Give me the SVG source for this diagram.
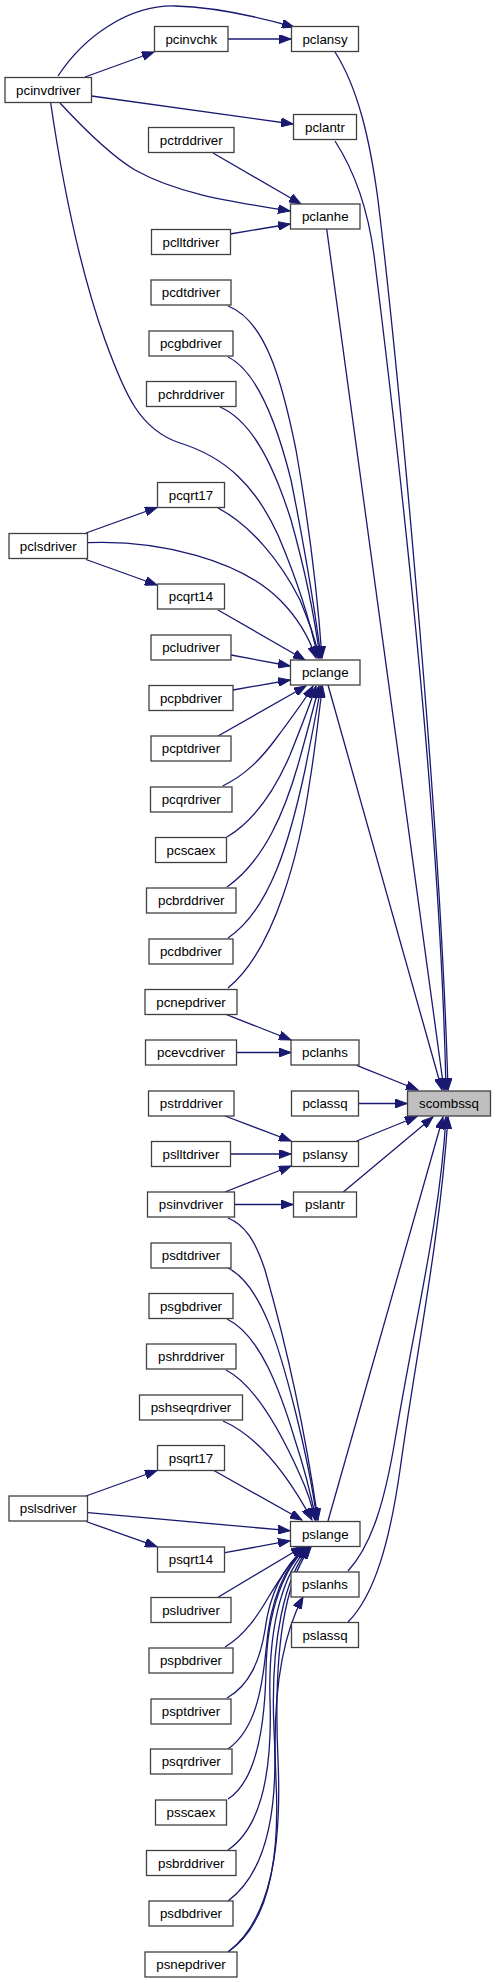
<svg xmlns="http://www.w3.org/2000/svg" width="496" height="1983" viewBox="0 0 496 1983">
<style>
.n rect{fill:#ffffff;stroke:#404040;stroke-width:1.3}
.n text{font-family:"Liberation Sans",Arial,Helvetica,sans-serif;font-size:13.3px;text-anchor:middle;fill:#000000}
#scombssq rect{fill:#bfbfbf}
.e path{fill:none;stroke:#191970;stroke-width:1.3;marker-end:url(#ah)}
</style>
<defs>
<marker id="ah" markerUnits="userSpaceOnUse" markerWidth="13" markerHeight="9" refX="12" refY="4.5" orient="auto">
<path d="M0,0L12,4.5L0,9z" fill="#191970" stroke="#191970" stroke-width="1"/>
</marker>
</defs>
<rect width="496" height="1983" fill="#ffffff"/>
<g id="edges" class="e">
<path d="M58,76 C85,35 130,5 175,6 C215,7 255,16 294,27"/>
<path d="M85,77 L154,52"/>
<path d="M228,39 L291,39"/>
<path d="M91.5,96 L293,124"/>
<path d="M60,103 C85,130 110,155 135,170 C180,195 235,202 290,211"/>
<path d="M50.7,103 C62,180 80,270 105,340 C125,395 140,430 180,443 C225,457 255,485 278,535 C295,575 310,620 318,658"/>
<path d="M213,153 L301,204"/>
<path d="M230,234 L290,224"/>
<path d="M228,306 C265,320 282,380 296,450 C310,530 318,600 322,658"/>
<path d="M228,357 C255,370 276,420 291,480 C305,550 315,610 321,658"/>
<path d="M220,407 C250,420 272,460 291,520 C305,570 315,620 320,658"/>
<path d="M86,533 L157,507.5"/>
<path d="M86,559.5 L157,585"/>
<path d="M218,508 C250,525 280,560 300,600 C310,625 316,640 319,658"/>
<path d="M88,542.7 C160,540 240,560 280,600 C300,620 310,640 316,658"/>
<path d="M218,610 L305,660"/>
<path d="M231,655 L290,666"/>
<path d="M233,690 L290,680"/>
<path d="M218,736 L306,686"/>
<path d="M222.7,786 C245,775 260,760 275,740 C290,720 305,700 313,686"/>
<path d="M227,837 C255,820 275,790 290,755 C300,730 310,705 316,686"/>
<path d="M227,887 C265,860 285,810 298,765 C305,740 313,710 319,686"/>
<path d="M228,938 C270,910 290,840 305,770 C310,745 316,715 321,686"/>
<path d="M228,988 C275,950 300,850 310,780 C315,750 318,720 322.5,686"/>
<path d="M225,1014 L291,1040"/>
<path d="M236.7,1052.5 L291,1052.5"/>
<path d="M225,1116 L291,1141"/>
<path d="M230.3,1154 L291,1154"/>
<path d="M225,1192 L291,1166"/>
<path d="M234.7,1204.5 L293,1204.5"/>
<path d="M335,52 C358,88 370,140 378,200 C395,340 440,800 448,1090"/>
<path d="M335,141 C355,172 368,210 374,255 C392,400 440,800 446,1090"/>
<path d="M326.7,229 L444,1090"/>
<path d="M328,685 L442,1090"/>
<path d="M356.7,1065.3 L418,1090"/>
<path d="M358.3,1103.5 L407,1103.5"/>
<path d="M356.7,1141 L417,1116.5"/>
<path d="M343.3,1192 L433,1117"/>
<path d="M328,1521 L443,1117"/>
<path d="M348,1571 C372,1545 385,1500 395,1440 C415,1320 440,1220 446,1117"/>
<path d="M348,1622 C375,1595 390,1540 400,1470 C415,1360 440,1240 448,1117"/>
<path d="M228,1218 C245,1225 255,1240 265,1270 C285,1340 305,1430 318,1520"/>
<path d="M228,1268 C262,1285 280,1350 295,1410 C305,1450 313,1490 317,1520"/>
<path d="M227,1319 C260,1335 280,1390 295,1440 C305,1470 312,1500 316,1520"/>
<path d="M226,1370 C255,1385 280,1430 300,1475 C307,1490 312,1505 315,1520"/>
<path d="M223,1421 C255,1435 285,1470 312,1520"/>
<path d="M213,1470 L302,1520"/>
<path d="M86,1496 L157,1470.5"/>
<path d="M88,1512.7 L290,1530.7"/>
<path d="M86,1521.5 L157,1546.7"/>
<path d="M225,1552.7 L290,1540.7"/>
<path d="M218,1597.3 L303,1546.5"/>
<path d="M225,1647 C245,1635 258,1615 268,1598 C280,1578 292,1560 305,1547"/>
<path d="M227,1698 C250,1685 260,1660 265,1630 C270,1590 285,1565 306,1547"/>
<path d="M228,1749 C255,1730 262,1690 266,1650 C270,1600 285,1565 307,1547"/>
<path d="M228,1799 C258,1780 265,1720 266,1670 C267,1610 285,1565 308,1547"/>
<path d="M228,1850 C265,1825 272,1760 270,1700 C268,1620 285,1570 309,1547"/>
<path d="M228,1901 C270,1870 278,1800 274,1730 C270,1640 285,1575 310,1547"/>
<path d="M228,1952 C270,1920 282,1850 278,1760 C273,1650 285,1580 311,1547"/>
<path d="M228,1952 C268,1925 280,1860 276,1780 C272,1700 280,1640 303,1597"/>
</g>
<g id="pcinvchk" class="n"><rect x="154.5" y="26.5" width="73.5" height="25"/><text x="191.25" y="43.5">pcinvchk</text></g>
<g id="pclansy" class="n"><rect x="291.5" y="26.5" width="67" height="25"/><text x="325" y="43.5">pclansy</text></g>
<g id="pcinvdriver" class="n"><rect x="5" y="77.5" width="86.5" height="25"/><text x="48.25" y="94.5">pcinvdriver</text></g>
<g id="pclantr" class="n"><rect x="293.5" y="114.5" width="63" height="25"/><text x="325" y="131.5">pclantr</text></g>
<g id="pctrddriver" class="n"><rect x="148.5" y="127.5" width="85.5" height="25"/><text x="191.25" y="144.5">pctrddriver</text></g>
<g id="pclanhe" class="n"><rect x="290.5" y="204" width="69.5" height="25"/><text x="325.25" y="221">pclanhe</text></g>
<g id="pclltdriver" class="n"><rect x="151.5" y="229.5" width="79" height="25"/><text x="191" y="246.5">pclltdriver</text></g>
<g id="pcdtdriver" class="n"><rect x="151" y="280" width="80" height="25"/><text x="191" y="297">pcdtdriver</text></g>
<g id="pcgbdriver" class="n"><rect x="149" y="331" width="84" height="25"/><text x="191" y="348">pcgbdriver</text></g>
<g id="pchrddriver" class="n"><rect x="146.5" y="381.5" width="89.5" height="25"/><text x="191.25" y="398.5">pchrddriver</text></g>
<g id="pcqrt17" class="n"><rect x="157.5" y="482.5" width="67" height="25"/><text x="191" y="499.5">pcqrt17</text></g>
<g id="pclsdriver" class="n"><rect x="9" y="533.5" width="78.5" height="25"/><text x="48.25" y="550.5">pclsdriver</text></g>
<g id="pcqrt14" class="n"><rect x="157.5" y="584" width="67" height="25"/><text x="191" y="601">pcqrt14</text></g>
<g id="pcludriver" class="n"><rect x="151" y="635" width="80" height="25"/><text x="191" y="652">pcludriver</text></g>
<g id="pclange" class="n"><rect x="290.5" y="660" width="69.5" height="25"/><text x="325.25" y="677">pclange</text></g>
<g id="pcpbdriver" class="n"><rect x="149" y="685.5" width="84" height="25"/><text x="191" y="702.5">pcpbdriver</text></g>
<g id="pcptdriver" class="n"><rect x="151" y="736" width="80" height="25"/><text x="191" y="753">pcptdriver</text></g>
<g id="pcqrdriver" class="n"><rect x="150.5" y="787" width="81.5" height="25"/><text x="191.25" y="804">pcqrdriver</text></g>
<g id="pcscaex" class="n"><rect x="155.5" y="837.5" width="71" height="25"/><text x="191" y="854.5">pcscaex</text></g>
<g id="pcbrddriver" class="n"><rect x="146.5" y="888" width="89.5" height="25"/><text x="191.25" y="905">pcbrddriver</text></g>
<g id="pcdbdriver" class="n"><rect x="149" y="939" width="84" height="25"/><text x="191" y="956">pcdbdriver</text></g>
<g id="pcnepdriver" class="n"><rect x="145" y="989.5" width="92" height="25"/><text x="191" y="1006.5">pcnepdriver</text></g>
<g id="pcevcdriver" class="n"><rect x="145.5" y="1040" width="91" height="25"/><text x="191" y="1057">pcevcdriver</text></g>
<g id="pclanhs" class="n"><rect x="291" y="1040" width="68" height="25"/><text x="325" y="1057">pclanhs</text></g>
<g id="pstrddriver" class="n"><rect x="148.5" y="1091" width="85.5" height="25"/><text x="191.25" y="1108">pstrddriver</text></g>
<g id="pclassq" class="n"><rect x="291.5" y="1091" width="67" height="25"/><text x="325" y="1108">pclassq</text></g>
<g id="scombssq" class="n"><rect x="407.5" y="1091" width="83" height="25"/><text x="449" y="1108">scombssq</text></g>
<g id="pslltdriver" class="n"><rect x="151.5" y="1141.5" width="79" height="25"/><text x="191" y="1158.5">pslltdriver</text></g>
<g id="pslansy" class="n"><rect x="291.5" y="1141.5" width="67" height="25"/><text x="325" y="1158.5">pslansy</text></g>
<g id="psinvdriver" class="n"><rect x="147.5" y="1192" width="87" height="25"/><text x="191" y="1209">psinvdriver</text></g>
<g id="pslantr" class="n"><rect x="293.5" y="1192" width="63" height="25"/><text x="325" y="1209">pslantr</text></g>
<g id="psdtdriver" class="n"><rect x="151" y="1243" width="80" height="25"/><text x="191" y="1260">psdtdriver</text></g>
<g id="psgbdriver" class="n"><rect x="149" y="1293.5" width="84" height="25"/><text x="191" y="1310.5">psgbdriver</text></g>
<g id="pshrddriver" class="n"><rect x="146.5" y="1344" width="89.5" height="25"/><text x="191.25" y="1361">pshrddriver</text></g>
<g id="pshseqrdriver" class="n"><rect x="139.5" y="1395" width="103" height="25"/><text x="191" y="1412">pshseqrdriver</text></g>
<g id="psqrt17" class="n"><rect x="157.5" y="1445.5" width="67" height="25"/><text x="191" y="1462.5">psqrt17</text></g>
<g id="pslsdriver" class="n"><rect x="9" y="1496" width="78.5" height="25"/><text x="48.25" y="1513">pslsdriver</text></g>
<g id="pslange" class="n"><rect x="290.5" y="1521.5" width="69.5" height="25"/><text x="325.25" y="1538.5">pslange</text></g>
<g id="psqrt14" class="n"><rect x="157.5" y="1547" width="67" height="25"/><text x="191" y="1564">psqrt14</text></g>
<g id="pslanhs" class="n"><rect x="291" y="1572" width="68" height="25"/><text x="325" y="1589">pslanhs</text></g>
<g id="psludriver" class="n"><rect x="151" y="1597.5" width="80" height="25"/><text x="191" y="1614.5">psludriver</text></g>
<g id="pslassq" class="n"><rect x="291.5" y="1622.5" width="67" height="25"/><text x="325" y="1639.5">pslassq</text></g>
<g id="pspbdriver" class="n"><rect x="149" y="1648" width="84" height="25"/><text x="191" y="1665">pspbdriver</text></g>
<g id="psptdriver" class="n"><rect x="151" y="1699" width="80" height="25"/><text x="191" y="1716">psptdriver</text></g>
<g id="psqrdriver" class="n"><rect x="150.5" y="1749" width="81.5" height="25"/><text x="191.25" y="1766">psqrdriver</text></g>
<g id="psscaex" class="n"><rect x="155.5" y="1800" width="71" height="25"/><text x="191" y="1817">psscaex</text></g>
<g id="psbrddriver" class="n"><rect x="146.5" y="1850.5" width="89.5" height="25"/><text x="191.25" y="1867.5">psbrddriver</text></g>
<g id="psdbdriver" class="n"><rect x="149" y="1901" width="84" height="25"/><text x="191" y="1918">psdbdriver</text></g>
<g id="psnepdriver" class="n"><rect x="145" y="1952" width="92" height="25"/><text x="191" y="1969">psnepdriver</text></g>
</svg>
